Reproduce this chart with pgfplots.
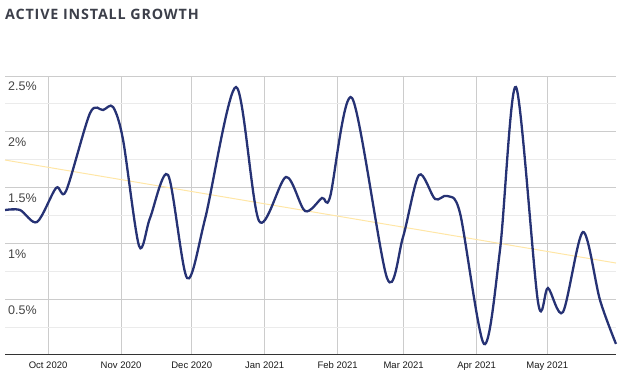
\documentclass[border=0pt]{standalone}
\usepackage{pgfplots}
\pgfplotsset{compat=1.18}
\usepackage{fontspec}
\setmainfont{Liberation Sans}
\newfontfamily\titlefont[LetterSpace=6]{Open Sans}
\definecolor{navy}{HTML}{263274}
\definecolor{trend}{HTML}{FFE6A6}
\definecolor{majgrid}{HTML}{CCCCCC}
\definecolor{mingrid}{HTML}{EBEBEB}
\definecolor{titlegray}{HTML}{3C3F4A}
\definecolor{labgray}{HTML}{444444}
\begin{document}
\begin{tikzpicture}[x=1pt,y=1pt]
\useasboundingbox (0,0) rectangle (619,382);
\node[anchor=west, font=\titlefont\bfseries\fontsize{14.3}{14.3}\selectfont, text=titlegray, inner sep=0pt] at (5,368) {ACTIVE INSTALL GROWTH};
\begin{axis}[
  at={(5pt,27pt)}, anchor=south west,
  scale only axis, width=611pt, height=279pt,
  xmin=-18.3, xmax=241.2, ymin=0, ymax=2.5,
  axis x line*=bottom, axis y line*=left,
  x axis line style={draw=black!80, line width=1pt},
  y axis line style={draw=none},
  xtick={0,31,61,92,123,151,182,212},
  xticklabels={Oct 2020,Nov 2020,Dec 2020,Jan 2021,Feb 2021,Mar 2021,Apr 2021,May 2021},
  ytick={0.5,1,1.5,2,2.5},
  yticklabels={0.5\%,1\%,1.5\%,2\%,2.5\%},
  minor ytick={0.25,0.75,1.25,1.75,2.25},
  grid=both,
  major grid style={draw=majgrid, line width=0.9pt},
  minor grid style={draw=mingrid, line width=0.9pt},
  major tick length=0pt, minor tick length=0pt,
  xticklabel style={font=\fontsize{9.5}{9.5}\selectfont, text=black!90, inner sep=0pt, anchor=north, text height=7pt, text depth=2pt, yshift=-6pt},
  yticklabel style={font=\fontsize{12.5}{12.5}\selectfont, text=labgray, anchor=north west, inner sep=0pt, xshift=3pt, yshift=-6pt},
  clip=false,
]
\addplot[trend, line width=1pt] coordinates {(-18.3,1.747) (241.2,0.824)};
\addplot[navy, line width=2.3pt, smooth, tension=0.5] coordinates {
(-18.26,1.299) (-11.89,1.299) (-4.67,1.192) (3.40,1.497) (7.64,1.470)
(17.83,2.168) (23.35,2.195) (27.60,2.222) (31.85,1.927) (38.64,0.977) (43.31,1.228)
(50.96,1.613) (59.02,0.690) (66.67,1.219) (79.83,2.401) (89.60,1.201)
(101.06,1.595) (109.13,1.290) (116.35,1.407) (119.75,1.416) (129.09,2.303) (143.95,0.690)
(150.74,1.057) (157.54,1.613) (164.33,1.398) (169.43,1.425) (174.95,1.272) (185.14,0.099)
(191.93,0.941) (198.73,2.401) (208.07,0.475) (212.31,0.600) (218.68,0.385) (227.18,1.102)
(234.39,0.493) (241.19,0.099)
};
\end{axis}
\end{tikzpicture}
\end{document}
